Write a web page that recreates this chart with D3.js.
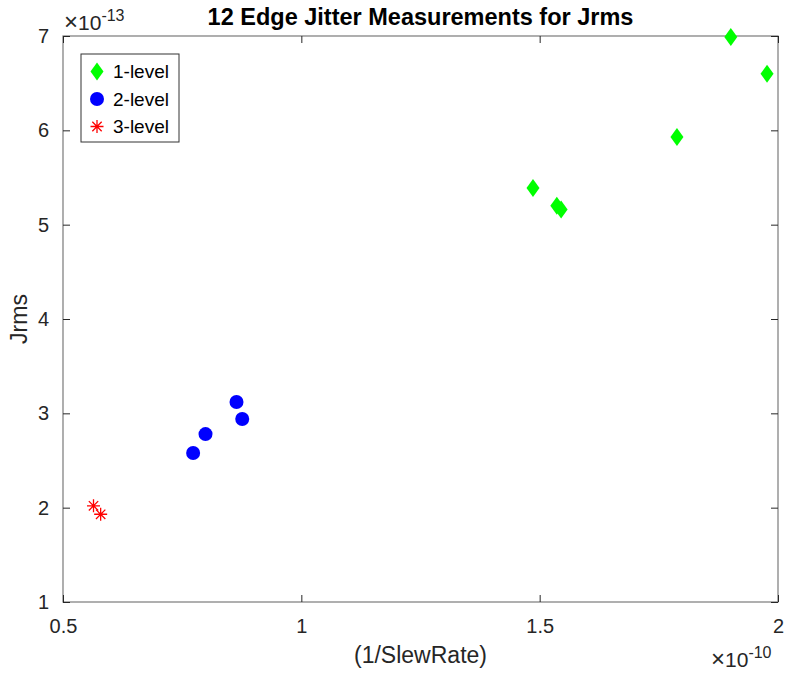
<!DOCTYPE html>
<html>
<head>
<meta charset="utf-8">
<script src="https://cdn.jsdelivr.net/npm/d3@7"></script>
<style>
  body { margin: 0; background: #fff; }
  svg { display: block; font-family: "Liberation Sans", Arial, Helvetica, sans-serif; }
</style>
</head>
<body>
<script>
// values (x in seconds of 1/SlewRate, y in seconds)
var level1X = [1.901e-10, 1.977e-10, 1.788e-10, 1.486e-10, 1.536e-10, 1.545e-10];
var level1Y = [6.99e-13, 6.60e-13, 5.93e-13, 5.39e-13, 5.20e-13, 5.16e-13];
var level2X = [0.864e-10, 0.876e-10, 0.799e-10, 0.773e-10];
var level2Y = [3.12e-13, 2.94e-13, 2.78e-13, 2.58e-13];
var level3X = [0.564e-10, 0.579e-10];
var level3Y = [2.02e-13, 1.93e-13];
var seriesNames = ['1-level', '2-level', '3-level'];
var xTicks = [0.5, 1, 1.5, 2];
var yTicks = [1, 2, 3, 4, 5, 6, 7];

var width = 795;
var height = 673;
var plotL = 63, plotR = 778, plotT = 36, plotB = 602;
var axisColor = '#262626';

var svg = d3.select('body').append('svg')
  .attr('width', width)
  .attr('height', height);

var x = d3.scaleLinear().domain([0.5e-10, 2e-10]).range([plotL, plotR]);
var y = d3.scaleLinear().domain([1e-13, 7e-13]).range([plotB, plotT]);

function zip(xs, ys) {
  return xs.map(function(v, i) { return { x: v, y: ys[i] }; });
}

// box
svg.append('rect')
  .attr('x', plotL).attr('y', plotT)
  .attr('width', plotR - plotL).attr('height', plotB - plotT)
  .attr('fill', 'none')
  .attr('stroke', '#7a7a7a')
  .attr('stroke-width', 1.2);

function styleAxis(g) {
  g.select('.domain').remove();
  g.selectAll('.tick line').attr('stroke', axisColor);
  g.selectAll('.tick text')
    .attr('fill', axisColor)
    .style('font-size', '20px')
    .style('font-family', '"Liberation Sans", Arial, sans-serif');
}

var xVals = xTicks.map(function(t) { return t * 1e-10; });
var yVals = yTicks.map(function(t) { return t * 1e-13; });

svg.append('g')
  .attr('transform', 'translate(0,' + plotB + ')')
  .call(d3.axisBottom(x).tickValues(xVals).tickSize(-7).tickPadding(17)
    .tickFormat(function(d) { return d3.format('~g')(+(d / 1e-10).toFixed(6)); }))
  .call(styleAxis);

svg.append('g')
  .attr('transform', 'translate(0,' + plotT + ')')
  .call(d3.axisTop(x).tickValues(xVals).tickSize(-7).tickFormat(''))
  .call(styleAxis);

svg.append('g')
  .attr('transform', 'translate(' + plotL + ',0)')
  .call(d3.axisLeft(y).tickValues(yVals).tickSize(-7).tickPadding(14)
    .tickFormat(function(d) { return d3.format('~g')(+(d / 1e-13).toFixed(6)); }))
  .call(styleAxis);

svg.append('g')
  .attr('transform', 'translate(' + plotR + ',0)')
  .call(d3.axisRight(y).tickValues(yVals).tickSize(-7).tickFormat(''))
  .call(styleAxis);

// exponent labels
function exponent(px, py, power) {
  var t = svg.append('text')
    .attr('x', px).attr('y', py)
    .attr('fill', axisColor)
    .style('font-size', '21px');
  t.append('tspan').style('font-size', '24px').text('\u00d7');
  t.append('tspan').text('10');
  t.append('tspan').attr('dy', -9).style('font-size', '16px').text(power);
}
exponent(64, 30, '-13');
exponent(711, 667, '-10');

// title and axis labels
svg.append('text')
  .attr('x', (plotL + plotR) / 2).attr('y', 25)
  .attr('text-anchor', 'middle')
  .style('font-size', '23.5px')
  .style('font-weight', 'bold')
  .attr('fill', '#000')
  .text('12 Edge Jitter Measurements for Jrms');

svg.append('text')
  .attr('x', (plotL + plotR) / 2).attr('y', 663)
  .attr('text-anchor', 'middle')
  .style('font-size', '23px')
  .attr('fill', axisColor)
  .text('(1/SlewRate)');

svg.append('text')
  .attr('transform', 'translate(27,' + (plotT + plotB) / 2 + ') rotate(-90)')
  .attr('text-anchor', 'middle')
  .style('font-size', '23px')
  .attr('fill', axisColor)
  .text('Jrms');

// markers
function diamond(sel) {
  sel.append('path')
    .attr('d', 'M0,-9L6.5,0L0,9L-6.5,0Z')
    .attr('fill', '#00ff00');
}
function circle(sel) {
  sel.append('circle').attr('r', 7).attr('fill', '#0000ff');
}
function star(sel) {
  var r = 6.5, d = r * 0.72;
  sel.append('path')
    .attr('d', 'M' + -r + ',0H' + r + 'M0,' + -r + 'V' + r +
      'M' + -d + ',' + -d + 'L' + d + ',' + d + 'M' + -d + ',' + d + 'L' + d + ',' + -d)
    .attr('stroke', '#ff0000')
    .attr('stroke-width', 1.3)
    .attr('fill', 'none');
}

var groups = [
  { data: zip(level1X, level1Y), draw: diamond },
  { data: zip(level2X, level2Y), draw: circle },
  { data: zip(level3X, level3Y), draw: star }
];

groups.forEach(function(grp) {
  svg.append('g').selectAll('g')
    .data(grp.data)
    .enter().append('g')
      .attr('transform', function(d) { return 'translate(' + x(d.x) + ',' + y(d.y) + ')'; })
      .each(function() { grp.draw(d3.select(this)); });
});

// legend
var legend = svg.append('g');
legend.append('rect')
  .attr('x', 81).attr('y', 54)
  .attr('width', 98).attr('height', 88)
  .attr('fill', '#fff')
  .attr('stroke', '#333')
  .attr('stroke-width', 1);

seriesNames.forEach(function(name, i) {
  var row = legend.append('g')
    .attr('transform', 'translate(97,' + (71.5 + i * 27.5) + ')');
  groups[i].draw(row);
  row.append('text')
    .attr('x', 16).attr('y', 6.5)
    .style('font-size', '19px')
    .attr('fill', '#000')
    .text(name);
});
</script>
</body>
</html>
